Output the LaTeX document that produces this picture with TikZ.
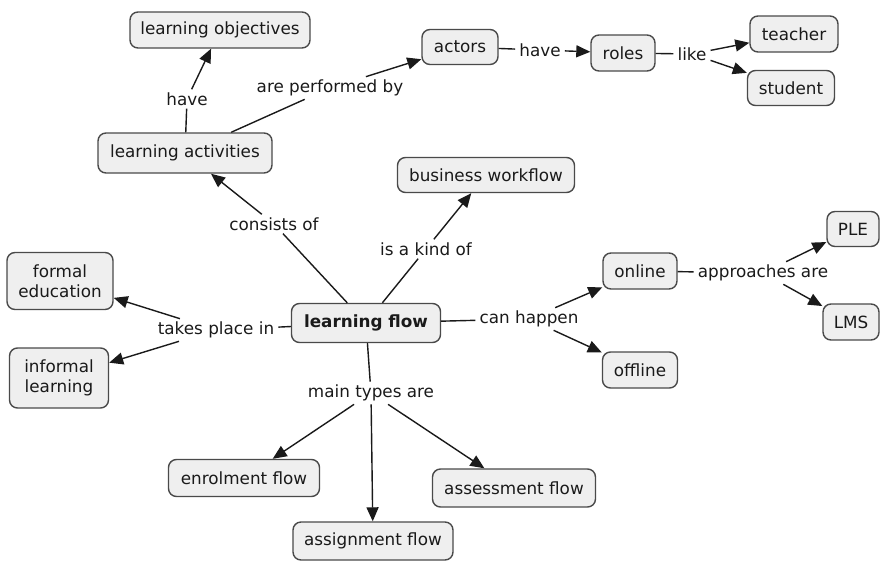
\documentclass[tikz,border=0pt]{standalone}
\usepackage{fontspec}
\setmainfont{DejaVu Sans}
\usetikzlibrary{arrows.meta}
\definecolor{boxfill}{HTML}{EFEFEF}
\definecolor{boxline}{HTML}{4A4A4A}
\definecolor{ink}{HTML}{1A1A1A}
\begin{document}
\begin{tikzpicture}[x=1pt,y=-1pt,
  font=\fontsize{16.8}{19.5}\selectfont,
  concept/.style={draw=boxline, line width=1.4pt, fill=boxfill, rounded corners=8pt,
    inner xsep=4pt, inner ysep=3pt, minimum height=36pt, text=ink, align=center},
  phrase/.style={inner xsep=4pt, inner ysep=3pt, text=ink},
  link/.style={draw=ink, line width=1.4pt},
  arrow/.style={link, -{Triangle[length=14pt,width=12pt]}},
]
\useasboundingbox (0,0) rectangle (880,560);

% concepts
\node[concept, minimum width=180pt] (lobj) at (220,30) {learning objectives};
\node[concept, minimum width=76pt, minimum height=35pt] (actors) at (460,47) {actors};
\node[concept, minimum width=64pt] (roles) at (623,53) {roles};
\node[concept, minimum width=88pt] (teacher) at (794,34) {teacher};
\node[concept, minimum width=87pt, minimum height=35pt] (student) at (791,88) {student};
\node[concept, minimum width=174pt, minimum height=40pt] (lact) at (185,153) {learning activities};
\node[concept, minimum width=177pt, minimum height=35pt] (bwf) at (486,175) {business workflow};
\node[concept, minimum width=106pt, minimum height=57pt] (formal) at (60,281) {formal\\education};
\node[concept, minimum width=99pt, minimum height=60pt] (informal) at (59,378) {informal\\learning};
\node[concept, minimum width=149pt, minimum height=39pt, font=\fontsize{16.8}{19.5}\selectfont\bfseries] (lflow) at (366,323) {learning flow};
\node[concept, minimum width=74pt] (online) at (640,271) {online};
\node[concept, minimum width=75pt] (offline) at (640,370) {offline};
\node[concept, minimum width=52pt, minimum height=35pt] (ple) at (853,229) {PLE};
\node[concept, minimum width=56pt] (lms) at (851,322) {LMS};
\node[concept, minimum width=151pt, minimum height=37pt] (enrol) at (244,478) {enrolment flow};
\node[concept, minimum width=160pt, minimum height=38pt] (assign) at (373,541) {assignment flow};
\node[concept, minimum width=163pt, minimum height=38pt] (assess) at (514,488) {assessment flow};

% linking phrases
\node[phrase] (p-have1) at (187,99) {have};
\node[phrase] (p-perf) at (330,88) {are performed by};
\node[phrase] (p-have2) at (540,50) {have};
\node[phrase] (p-like) at (692,54) {like};
\node[phrase] (p-cons) at (274,224) {consists of};
\node[phrase] (p-kind) at (426,249) {is a kind of};
\node[phrase] (p-place) at (216,330) {takes place in};
\node[phrase] (p-happen) at (529,319) {can happen};
\node[phrase] (p-appr) at (763,273) {approaches are};
\node[phrase] (p-types) at (371,393) {main types are};

% connectors
\draw[link] (lact) -- (p-have1);
\draw[arrow] (p-have1) -- (lobj);
\draw[link] (lact) -- (p-perf);
\draw[arrow] (p-perf) -- (actors);
\draw[link] (actors) -- (p-have2);
\draw[arrow] (p-have2) -- (roles);
\draw[link] (roles) -- (p-like);
\draw[arrow] (p-like) -- (teacher);
\draw[arrow] (p-like) -- (student);
\draw[link] (lflow) -- (p-cons);
\draw[arrow] (p-cons) -- (lact);
\draw[link] (lflow) -- (p-kind);
\draw[arrow] (p-kind) -- (bwf);
\draw[link] (lflow) -- (p-place);
\draw[arrow] (p-place) -- (formal);
\draw[arrow] (p-place) -- (informal);
\draw[link] (lflow) -- (p-happen);
\draw[arrow] (p-happen) -- (online);
\draw[arrow] (p-happen) -- (offline);
\draw[link] (online) -- (p-appr);
\draw[arrow] (p-appr) -- (ple);
\draw[arrow] (p-appr) -- (lms);
\draw[link] (lflow) -- (p-types);
\draw[arrow] (p-types) -- (enrol);
\draw[arrow] (p-types) -- (assign);
\draw[arrow] (p-types) -- (assess);
\end{tikzpicture}
\end{document}
